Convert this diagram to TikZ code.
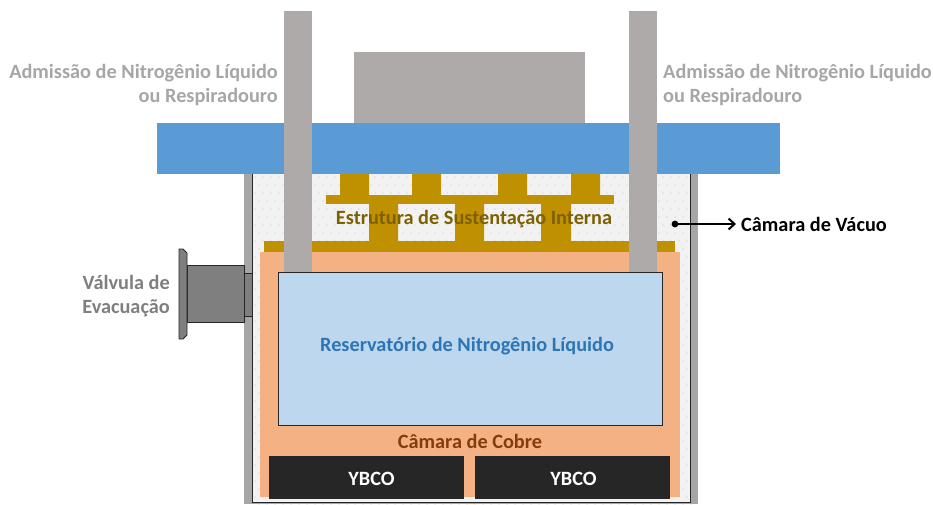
\documentclass[tikz,border=0pt]{standalone}
\usepackage{fontspec}
\setmainfont{Carlito}
\usetikzlibrary{arrows.meta}
\definecolor{wallc}{HTML}{A6A6A6}
\definecolor{vacc}{HTML}{F2F2F2}
\definecolor{dotc}{HTML}{C4C4C4}
\definecolor{plate}{HTML}{5B9BD5}
\definecolor{pipe}{HTML}{AEAAAA}
\definecolor{gold}{HTML}{BF9000}
\definecolor{goldt}{HTML}{7F6000}
\definecolor{copper}{HTML}{F4B183}
\definecolor{coppert}{HTML}{843C0C}
\definecolor{tank}{HTML}{BDD7EE}
\definecolor{tankt}{HTML}{2E75B6}
\definecolor{ybco}{HTML}{262626}
\definecolor{valve}{HTML}{7F7F7F}
\definecolor{edgec}{HTML}{262626}
\tikzset{
 lbl/.style={font=\bfseries\fontsize{20.3}{24}\selectfont,inner sep=0pt},
 graylbl/.style={lbl,text=wallc,align=left},
 valvepart/.style={fill=valve,draw=edgec,line width=1pt},
 ybcobox/.style={fill=ybco,minimum width=195pt,minimum height=43pt,inner sep=0pt},
}
\begin{document}
\begin{tikzpicture}[x=1pt,y=-1pt]
\useasboundingbox (0,0) rectangle (933,504);
% chamber walls
\fill[wallc] (244,173) rectangle (698,504);
\fill[vacc] (252,173) rectangle (690,502);
\foreach \i in {0,...,54}{\foreach \j in {0,...,41}{
  \fill[dotc] ({255+8*\i+mod(\j,2)*4},{177+8*\j}) circle (0.6);
}}
\draw[edgec,line width=1pt] (252,502) -- (252,173) -- (690,173) -- (690,502) -- cycle;
% valve
\draw[valvepart] (244,273) rectangle (252,316);
\draw[valvepart] (187.5,265) rectangle (244,322);
\draw[valvepart,line width=.8pt] (179,249) -- (183,249) -- (187,253) -- (187,335) -- (183,339) -- (179,339) -- cycle;
% internal structure
\fill[gold] (340,173) rectangle (369,196) (412,173) rectangle (441,196)
 (498,173) rectangle (527,196) (571,173) rectangle (600,196);
\fill[gold] (326,195) rectangle (614,204);
\fill[gold] (369,204) rectangle (398,242) (455,204) rectangle (484,242) (541,204) rectangle (571,242);
\fill[gold] (264,241) rectangle (675,252);
% copper
\fill[copper] (260,252) rectangle (680,497);
% tank
\draw[fill=tank,draw=edgec,line width=1pt] (278,272) rectangle (662,425);
% plate, top block
\fill[pipe] (354,52) rectangle (585,123);
\fill[plate] (157,123) rectangle (780,174);
% pipes
\fill[pipe] (284,11) rectangle (312,272);
\fill[pipe] (629,11) rectangle (657,272);
% YBCO
\node[ybcobox] (y1) at (366.5,477.5) {};
\node[ybcobox] (y2) at (572.5,477.5) {};
\node[lbl,text=white] (t1) at (371.5,479) {YBCO};
\node[lbl,text=white] (t2) at (573.5,479) {YBCO};
% labels
\node[lbl,text=goldt] (est) at (474,219) {Estrutura de Sustentação Interna};
\node[lbl,text=tankt] (res) at (467,346) {Reservatório de Nitrogênio Líquido};
\node[lbl,text=coppert] (cob) at (470,441) {Câmara de Cobre};
\node[graylbl,align=right,anchor=east] (adl) at (278,85) {Admissão de Nitrogênio Líquido\\ou Respiradouro};
\node[graylbl,anchor=west] (adr) at (663,85) {Admissão de Nitrogênio Líquido\\ou Respiradouro};
\node[lbl,text=valve,align=right,anchor=east] (val) at (170,296) {Válvula de\\Evacuação};
\node[lbl,text=black,anchor=west] (vac) at (741,224) {Câmara de Vácuo};
\coordinate (vd) at (675,224);
\coordinate (vt) at (736,224);
\fill[black] (vd) circle (3.4);
\draw[black,line width=2pt,-{Straight Barb[length=6pt,width=11pt]}] (vd) -- (vt);
\end{tikzpicture}
\end{document}
